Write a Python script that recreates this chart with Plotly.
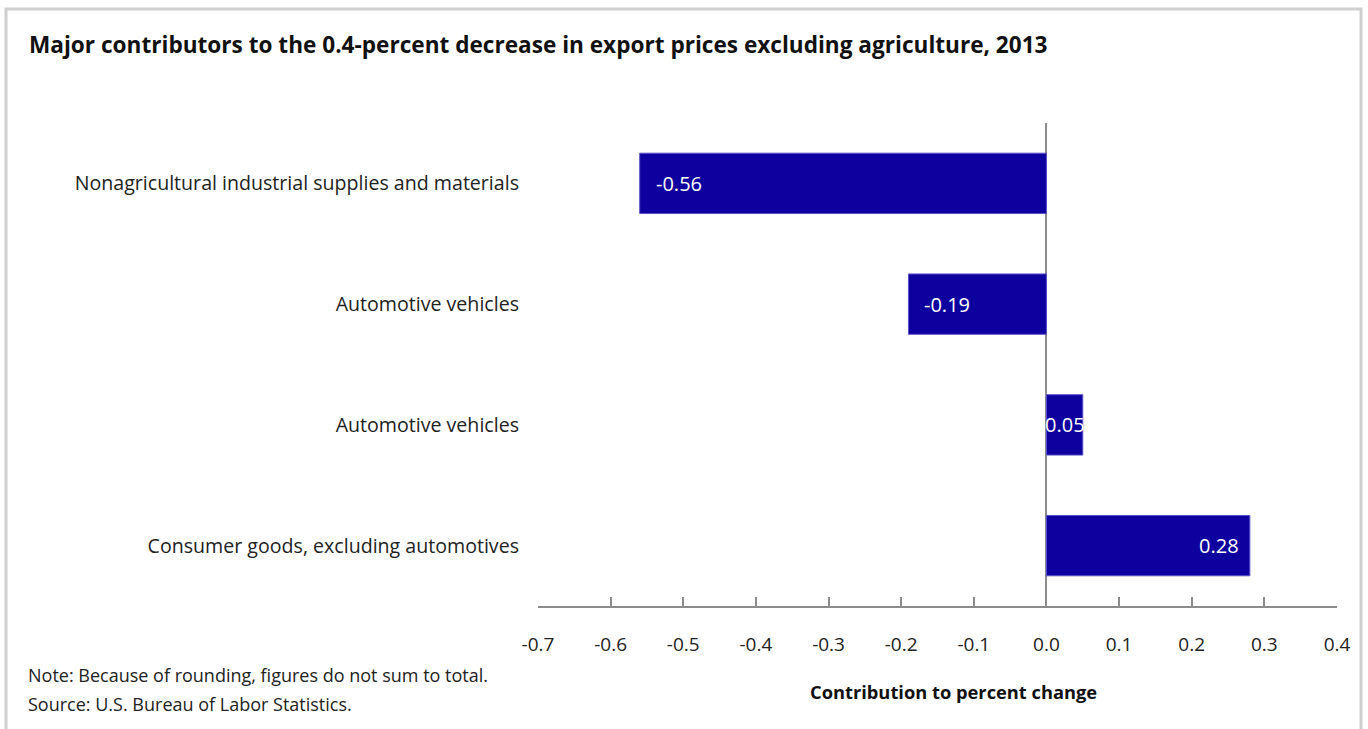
import plotly.graph_objects as go

categories = [
    "Nonagricultural industrial supplies and materials",
    "Automotive vehicles",
    "Automotive vehicles",
    "Consumer goods, excluding automotives",
]
values = [-0.56, -0.19, 0.05, 0.28]
value_labels = ["-0.56", "-0.19", "0.05", "0.28"]
x_tick_vals = [-0.7, -0.6, -0.5, -0.4, -0.3, -0.2, -0.1, 0.0, 0.1, 0.2, 0.3, 0.4]
x_tick_text = ["-0.7", "-0.6", "-0.5", "-0.4", "-0.3", "-0.2", "-0.1", "0.0", "0.1", "0.2", "0.3", "0.4"]

title = "Major contributors to the 0.4-percent decrease in export prices excluding agriculture, 2013"
x_title = "Contribution to percent change"
note = "Note: Because of rounding, figures do not sum to total."
source = "Source: U.S. Bureau of Labor Statistics."

FONT = "'Open Sans', Lato, sans-serif"
W, H = 1368, 729
L, R, T, B = 538, 31, 123, 123
pw, ph = W - L - R, H - T - B
XMIN, XMAX = -0.7, 0.4
unit_px = pw / (XMAX - XMIN)

def px(x):
    return (x - L) / pw

def py(y):
    return (H - B - y) / ph

positions = list(range(len(categories)))

fig = go.Figure(go.Bar(
    x=values,
    y=positions,
    orientation="h",
    width=0.5,
    marker=dict(color="#0E009E", line=dict(color="#5a50c8", width=1)),
    hoverinfo="skip",
))

VAL_FONT = dict(color="white", size=20, family=FONT)
annotations = []
for v, lab, p in zip(values, value_labels, positions):
    bar_px = abs(v) * unit_px
    if bar_px < 60:
        annotations.append(dict(x=v / 2, y=p, xref="x", yref="y", text=lab, showarrow=False,
                                xanchor="center", yanchor="middle", font=VAL_FONT))
    elif v < 0:
        annotations.append(dict(x=v, y=p, xref="x", yref="y", text=lab, showarrow=False,
                                xanchor="left", yanchor="middle", xshift=14, font=VAL_FONT))
    else:
        annotations.append(dict(x=v, y=p, xref="x", yref="y", text=lab, showarrow=False,
                                xanchor="right", yanchor="middle", xshift=-9, font=VAL_FONT))

annotations += [
    dict(text="<b>" + title + "</b>", x=px(27), y=py(44), xref="paper", yref="paper",
         xanchor="left", yanchor="middle", showarrow=False,
         font=dict(size=22.6, color="#111", family=FONT)),
    dict(text="<b>" + x_title + "</b>", x=px(953), y=py(691), xref="paper", yref="paper",
         xanchor="center", yanchor="middle", showarrow=False,
         font=dict(size=18.3, color="#111", family=FONT)),
    dict(text=note, x=px(26), y=py(675), xref="paper", yref="paper",
         xanchor="left", yanchor="middle", showarrow=False,
         font=dict(size=18, color="#222", family=FONT)),
    dict(text=source, x=px(26), y=py(704), xref="paper", yref="paper",
         xanchor="left", yanchor="middle", showarrow=False,
         font=dict(size=18, color="#222", family=FONT)),
]

fig.update_layout(
    width=W, height=H,
    margin=dict(l=L, r=R, t=T, b=B),
    paper_bgcolor="white",
    plot_bgcolor="white",
    showlegend=False,
    font=dict(family=FONT, size=17, color="#222"),
    xaxis=dict(
        range=[XMIN, XMAX],
        tickvals=x_tick_vals,
        ticktext=x_tick_text,
        showgrid=False,
        zeroline=True,
        zerolinecolor="#8c8c8c",
        zerolinewidth=1.5,
        showline=True,
        linecolor="#8c8c8c",
        linewidth=1.5,
        ticks="inside",
        ticklen=9,
        tickcolor="#8c8c8c",
        tickwidth=1.5,
        ticklabelstandoff=20,
        tickfont=dict(size=19, color="#222"),
        fixedrange=True,
    ),
    yaxis=dict(
        range=[3.5, -0.5],
        tickvals=positions,
        ticktext=categories,
        showgrid=False,
        zeroline=False,
        showline=False,
        ticks="",
        ticklabelstandoff=18,
        tickfont=dict(size=19.6, color="#222"),
        fixedrange=True,
    ),
    annotations=annotations,
    shapes=[
        dict(type="rect", xref="paper", yref="paper",
             x0=px(6), x1=px(1361), y0=py(740), y1=py(9),
             line=dict(color="#cfcfcf", width=3), fillcolor="rgba(0,0,0,0)", layer="below"),
    ],
)

fig.write_html("out.html", config={"displayModeBar": False},
               post_script="document.body.style.margin='0';document.body.style.overflow='hidden';")
